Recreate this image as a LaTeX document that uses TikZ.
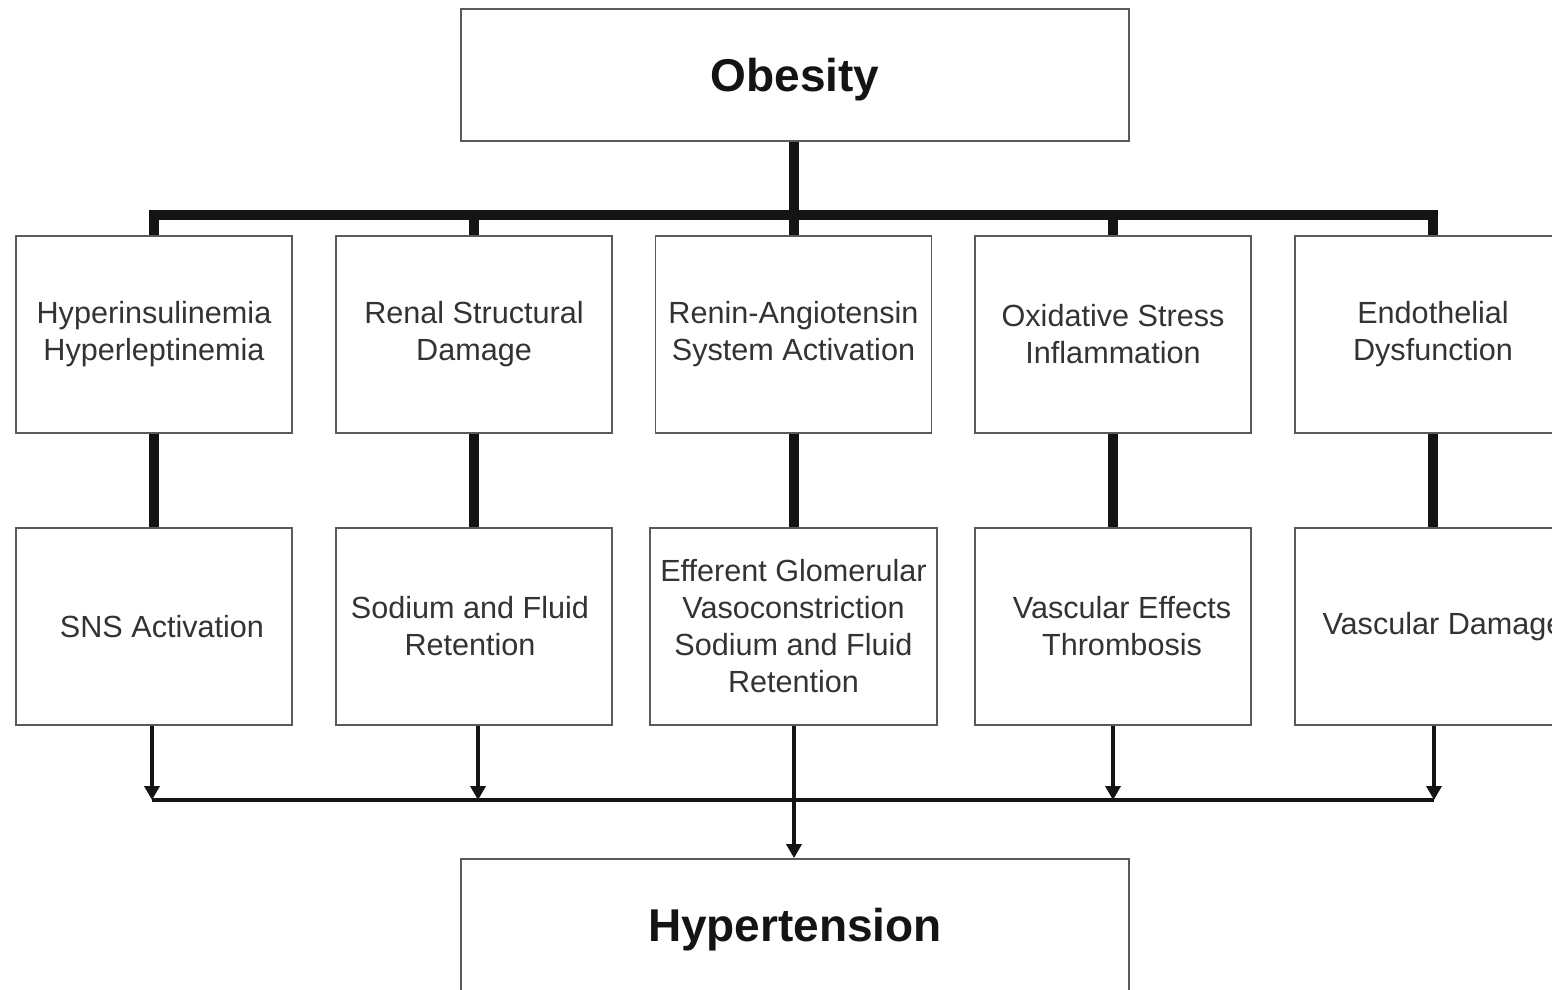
\documentclass[tikz,border=0pt]{standalone}
\usepackage{fontspec}
\setmainfont{Liberation Sans}
\usetikzlibrary{arrows.meta}
\definecolor{boxline}{HTML}{5A5A5A}
\definecolor{boxtext}{HTML}{333333}
\definecolor{linecol}{HTML}{141414}
\tikzset{
  x=1pt, y=-1pt,
  stagebox/.style={draw=boxline, line width=1.8pt, minimum width=276pt, minimum height=197pt,
    inner sep=0pt, align=center, text=boxtext, font=\fontsize{30.6}{37}\selectfont},
  bigbox/.style={draw=boxline, line width=1.8pt, minimum width=668pt, minimum height=132pt,
    inner sep=0pt, text depth=0pt, align=center, text=linecol, font=\fontsize{46}{52}\selectfont\bfseries},
  thickline/.style={draw=linecol, line width=10pt},
  thinline/.style={draw=linecol, line width=3.5pt},
  arr/.style={thinline, -{Triangle[width=15pt,length=14pt]}},
}
\begin{document}
\begin{tikzpicture}
\useasboundingbox (0,0) rectangle (1552,990);
\fill[white] (0,0) rectangle (1552,990);

\node[bigbox] (obesity) at (795,75) {Obesity};

\node[stagebox] (h1) at (154,334.5) {Hyperinsulinemia\\Hyperleptinemia};
\node[stagebox] (h2) at (474,334.5) {Renal Structural\\Damage};
\node[stagebox] (h3) at (793.5,334.5) {Renin-Angiotensin\\System Activation};
\node[stagebox] (h4) at (1113,334.5) {Oxidative Stress\\Inflammation};
\node[stagebox] (h5) at (1433,334.5) {Endothelial\\Dysfunction};

\node[stagebox] (r1) at (154,626.5) {\hspace*{16pt}SNS Activation};
\node[stagebox] (r2) at (474,626.5) {Sodium and Fluid\hspace*{8pt}\\Retention\hspace*{8pt}};
\node[stagebox, minimum width=287pt] (r3) at (793.5,626.5) {Efferent Glomerular\\Vasoconstriction\\Sodium and Fluid\\Retention};
\node[stagebox] (r4) at (1113,626.5) {\hspace*{18pt}Vascular Effects\\\hspace*{18pt}Thrombosis};
\node[stagebox] (r5) at (1433,626.5) {\hspace*{20pt}Vascular Damage};

\node[bigbox] (hyp) at (795,925) {Hypertension};

% top distribution bus
\coordinate (busT) at (794,215);
\draw[thickline] (obesity.south -| h3.north) -- (h3.north);
\draw[thickline] (h1.north) -- (h1.north |- busT) -- (h5.north |- busT) -- (h5.north);
\draw[thickline] (h2.north) -- (h2.north |- busT);
\draw[thickline] (h4.north) -- (h4.north |- busT);

% row 1 to row 2
\draw[thickline] (h1.south) -- (r1.north);
\draw[thickline] (h2.south) -- (r2.north);
\draw[thickline] (h3.south) -- (h3.south |- r3.north);
\draw[thickline] (h4.south) -- (r4.north);
\draw[thickline] (h5.south) -- (r5.north);

% bottom collecting bus
\coordinate (busB) at (794,800);
\coordinate (b1) at (152,800);
\coordinate (b2) at (478,800);
\coordinate (b4) at (1113,800);
\coordinate (b5) at (1434,800);
\draw[thinline] (b1) -- (b5);
\draw[arr] (r1.south -| b1) -- (b1);
\draw[arr] (r2.south -| b2) -- (b2);
\draw[arr] (r4.south -| b4) -- (b4);
\draw[arr] (r5.south -| b5) -- (b5);
\draw[arr] (r3.south -| busB) -- (hyp.north -| busB);
\end{tikzpicture}
\end{document}
